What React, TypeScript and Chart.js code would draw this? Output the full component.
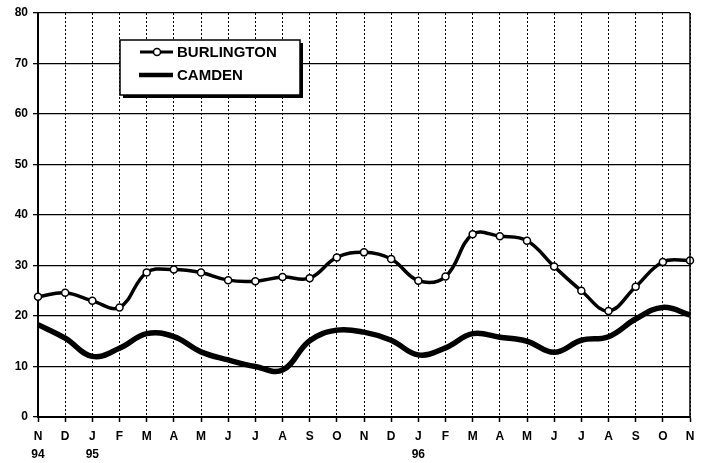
import React, { useEffect, useRef } from "react";
import { Chart, registerables } from "chart.js";

Chart.register(...registerables);

const months = ["N", "D", "J", "F", "M", "A", "M", "J", "J", "A", "S", "O", "N", "D", "J", "F", "M", "A", "M", "J", "J", "A", "S", "O", "N"];
const yearLabels = ["94", "", "95", "", "", "", "", "", "", "", "", "", "", "", "96", "", "", "", "", "", "", "", "", "", ""];
const burlington = [23.8, 24.6, 23.0, 21.7, 28.6, 29.2, 28.6, 27.1, 26.9, 27.7, 27.5, 31.6, 32.6, 31.3, 27.0, 27.8, 36.2, 35.8, 34.9, 29.8, 25.0, 21.0, 25.8, 30.7, 31.0];
const camden = [18.3, 15.6, 12.0, 13.6, 16.5, 15.9, 12.9, 11.3, 10.0, 9.3, 15.1, 17.2, 16.8, 15.2, 12.3, 13.7, 16.5, 15.8, 15.0, 12.8, 15.2, 15.9, 19.4, 21.7, 20.2];
const yTicks = [0, 10, 20, 30, 40, 50, 60, 70, 80];

const FONT = "'Liberation Sans', Arial, sans-serif";

const legendPlugin = {
  id: "boxLegend",
  afterDraw(chart: any) {
    const ctx = chart.ctx;
    const x0 = 120, y0 = 40, w = 180, h = 55;
    ctx.save();
    ctx.fillStyle = "#000";
    ctx.fillRect(x0 + 3, y0 + 3, w, h);
    ctx.fillStyle = "#fff";
    ctx.fillRect(x0, y0, w, h);
    ctx.strokeStyle = "#000";
    ctx.lineWidth = 1.5;
    ctx.strokeRect(x0, y0, w, h);
    const ds = chart.data.datasets;
    let y = y0 + 12;
    ctx.lineWidth = 3;
    ctx.beginPath();
    ctx.moveTo(x0 + 20, y);
    ctx.lineTo(x0 + 53, y);
    ctx.stroke();
    ctx.beginPath();
    ctx.arc(x0 + 37, y, 3.5, 0, Math.PI * 2);
    ctx.fillStyle = "#fff";
    ctx.fill();
    ctx.lineWidth = 1.5;
    ctx.stroke();
    ctx.fillStyle = "#000";
    ctx.font = "bold 15px " + FONT;
    ctx.textBaseline = "middle";
    ctx.textAlign = "left";
    ctx.fillText(ds[0].label, x0 + 57, y + 1);
    y = y0 + 35;
    ctx.lineWidth = 4.5;
    ctx.beginPath();
    ctx.moveTo(x0 + 19, y);
    ctx.lineTo(x0 + 53, y);
    ctx.stroke();
    ctx.fillText(ds[1].label, x0 + 57, y + 1);
    ctx.restore();
  },
};

const framePlugin = {
  id: "frame",
  afterDatasetsDraw(chart: any) {
    const { ctx, chartArea } = chart;
    ctx.save();
    ctx.strokeStyle = "#000";
    ctx.lineWidth = 1.5;
    ctx.beginPath();
    ctx.moveTo(chartArea.right, chartArea.top);
    ctx.lineTo(chartArea.right, chartArea.bottom);
    ctx.stroke();
    ctx.restore();
  },
};

export default function App() {
  const ref = useRef<HTMLCanvasElement>(null);
  useEffect(() => {
    if (!ref.current) return;
    const labels = months.map((m, i) => [m, yearLabels[i]]);
    const chart = new Chart(ref.current, {
      type: "line",
      data: {
        labels,
        datasets: [
          {
            label: "BURLINGTON",
            data: burlington,
            borderColor: "#000",
            borderWidth: 3.5,
            tension: 0.4,
            pointRadius: 3.5,
            pointBackgroundColor: "#fff",
            pointBorderColor: "#000",
            pointBorderWidth: 1.5,
          },
          {
            label: "CAMDEN",
            data: camden,
            borderColor: "#000",
            borderWidth: 5.5,
            tension: 0.4,
            pointRadius: 0,
          },
        ],
      },
      options: {
        animation: false,
        responsive: false,
        layout: { padding: { left: 0, top: 13, right: 19, bottom: 0 } },
        plugins: { legend: { display: false }, tooltip: { enabled: false } },
        scales: {
          x: {
            grid: {
              color: "#000",
              lineWidth: 1,
              drawTicks: true,
              tickLength: 5,
              tickColor: "#000",
              tickWidth: 1.5,
              tickBorderDash: [],
            },
            border: { display: true, color: "#000", width: 2, dash: [2, 2] },
            ticks: {
              color: "#000",
              autoSkip: false,
              maxRotation: 0,
              padding: 6,
              font: { family: FONT, size: 12, weight: "bold", lineHeight: 1.5 },
            },
            afterFit(scale: any) {
              scale.height = 46;
            },
          },
          y: {
            min: 0,
            max: 80,
            afterBuildTicks(scale: any) {
              scale.ticks = yTicks.map((v) => ({ value: v }));
            },
            grid: {
              color: "#000",
              lineWidth: 1.3,
              tickLength: 5,
              tickColor: "#000",
            },
            border: { display: true, color: "#000", width: 2 },
            ticks: {
              color: "#000",
              padding: 5,
              font: { family: FONT, size: 12, weight: "bold" },
            },
            afterFit(scale: any) {
              scale.width = 38;
            },
          },
        },
      },
      plugins: [framePlugin, legendPlugin],
    });
    return () => chart.destroy();
  }, []);
  return (
    <div style={{ position: "fixed", left: 0, top: 0, width: 709, height: 463, background: "#fff" }}>
      <canvas ref={ref} width={709} height={463} style={{ width: 709, height: 463 }} />
    </div>
  );
}
